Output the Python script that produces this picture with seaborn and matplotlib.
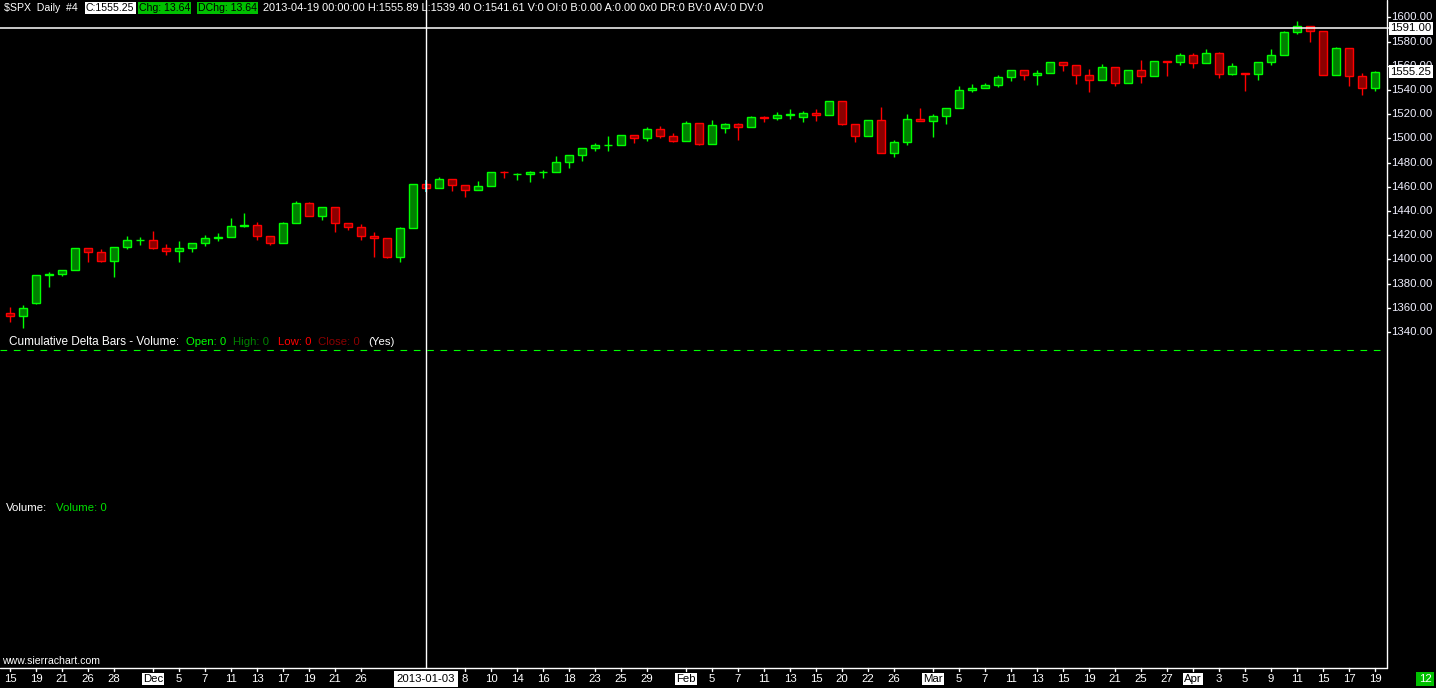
import numpy as np
import pandas as pd
import matplotlib
matplotlib.use("Agg")
import matplotlib.pyplot as plt
import matplotlib.transforms as mtransforms
import seaborn as sns

sns.set_theme(style="dark", rc={"axes.facecolor": "black", "figure.facecolor": "black"})
plt.rcParams['font.family'] = ['Liberation Sans', 'DejaVu Sans']

# ---- data: $SPX daily, 2012-11-15 .. 2013-04-19 ----
dates = [
    "2012-11-15", "2012-11-16", "2012-11-19", "2012-11-20", "2012-11-21", "2012-11-23",
    "2012-11-26", "2012-11-27", "2012-11-28", "2012-11-29", "2012-11-30",
    "2012-12-03", "2012-12-04", "2012-12-05", "2012-12-06", "2012-12-07", "2012-12-10",
    "2012-12-11", "2012-12-12", "2012-12-13", "2012-12-14", "2012-12-17", "2012-12-18",
    "2012-12-19", "2012-12-20", "2012-12-21", "2012-12-24", "2012-12-26", "2012-12-27",
    "2012-12-28", "2012-12-31",
    "2013-01-02", "2013-01-03", "2013-01-04", "2013-01-07", "2013-01-08", "2013-01-09",
    "2013-01-10", "2013-01-11", "2013-01-14", "2013-01-15", "2013-01-16", "2013-01-17",
    "2013-01-18", "2013-01-22", "2013-01-23", "2013-01-24", "2013-01-25", "2013-01-28",
    "2013-01-29", "2013-01-30", "2013-01-31",
    "2013-02-01", "2013-02-04", "2013-02-05", "2013-02-06", "2013-02-07", "2013-02-08",
    "2013-02-11", "2013-02-12", "2013-02-13", "2013-02-14", "2013-02-15", "2013-02-19",
    "2013-02-20", "2013-02-21", "2013-02-22", "2013-02-25", "2013-02-26", "2013-02-27",
    "2013-02-28",
    "2013-03-01", "2013-03-04", "2013-03-05", "2013-03-06", "2013-03-07", "2013-03-08",
    "2013-03-11", "2013-03-12", "2013-03-13", "2013-03-14", "2013-03-15", "2013-03-18",
    "2013-03-19", "2013-03-20", "2013-03-21", "2013-03-22", "2013-03-25", "2013-03-26",
    "2013-03-27", "2013-03-28",
    "2013-04-01", "2013-04-02", "2013-04-03", "2013-04-04", "2013-04-05", "2013-04-08",
    "2013-04-09", "2013-04-10", "2013-04-11", "2013-04-12", "2013-04-15", "2013-04-16",
    "2013-04-17", "2013-04-18", "2013-04-19",
]

opens = [
    1355.41, 1353.36, 1364.00, 1386.82, 1387.79, 1391.03, 1409.15, 1406.29, 1398.77, 1409.96, 1416.18,
    1416.34, 1409.46, 1407.05, 1409.43, 1413.95, 1418.07, 1418.55, 1427.84, 1428.48, 1419.45,
    1413.54, 1430.47, 1446.79, 1435.81, 1443.67, 1430.15, 1426.66, 1419.83, 1418.10, 1402.43,
    1426.19, 1462.42, 1459.37, 1466.47, 1461.89, 1457.15, 1461.02, 1472.12, 1470.30, 1470.67,
    1472.33, 1472.63, 1480.95, 1485.98, 1492.56, 1494.81, 1494.82, 1502.96, 1500.18, 1507.84,
    1501.96,
    1498.11, 1513.17, 1495.71, 1508.30, 1512.12, 1509.39, 1517.93, 1517.01, 1519.43, 1517.50,
    1521.38, 1519.79, 1530.94, 1511.95, 1502.42, 1515.60, 1487.85, 1496.94, 1515.99,
    1514.68, 1518.20, 1525.20, 1539.79, 1541.46, 1544.26, 1551.15, 1556.22, 1552.48, 1554.52,
    1563.21, 1560.70, 1552.10, 1548.34, 1558.71, 1545.90, 1556.89, 1551.69, 1563.75, 1562.86,
    1569.18, 1562.17, 1570.25, 1553.69, 1554.00, 1553.26, 1563.11, 1568.61, 1587.73, 1593.30,
    1588.84, 1552.36, 1574.57, 1552.03, 1541.61,
]
highs = [
    1360.62, 1362.03, 1386.89, 1389.77, 1391.25, 1409.16, 1409.15, 1409.01, 1410.31, 1419.70, 1418.86,
    1423.73, 1413.14, 1415.56, 1413.95, 1420.34, 1421.64, 1434.27, 1438.59, 1431.36, 1419.45,
    1430.67, 1448.00, 1447.75, 1443.70, 1443.67, 1430.15, 1429.42, 1422.80, 1418.10, 1426.74,
    1462.43, 1465.47, 1467.94, 1466.47, 1461.89, 1464.73, 1472.30, 1472.75, 1471.80, 1473.31,
    1473.96, 1485.16, 1485.98, 1492.56, 1496.13, 1502.27, 1503.26, 1503.23, 1509.35, 1509.94,
    1504.19,
    1514.41, 1513.17, 1514.96, 1512.53, 1512.90, 1518.31, 1518.31, 1522.29, 1524.69, 1523.14,
    1524.24, 1530.94, 1530.94, 1511.95, 1515.64, 1525.84, 1498.99, 1520.08, 1525.34,
    1519.99, 1525.27, 1543.47, 1545.25, 1545.78, 1552.48, 1556.27, 1556.77, 1556.39, 1563.32,
    1563.62, 1560.70, 1557.25, 1561.56, 1558.71, 1556.89, 1564.91, 1563.95, 1564.07, 1570.28,
    1570.57, 1573.66, 1571.47, 1562.60, 1554.20, 1563.07, 1573.89, 1589.07, 1597.35, 1593.30,
    1588.84, 1575.35, 1574.57, 1554.38, 1555.89,
]
lows = [
    1348.05, 1343.35, 1363.50, 1377.04, 1386.39, 1391.03, 1397.68, 1398.03, 1385.43, 1409.04, 1411.63,
    1408.46, 1403.65, 1398.23, 1405.93, 1410.90, 1415.64, 1418.55, 1426.76, 1416.00, 1411.88,
    1413.54, 1430.47, 1435.80, 1432.82, 1422.58, 1424.66, 1416.43, 1401.80, 1401.58, 1398.11,
    1426.19, 1455.53, 1458.99, 1456.62, 1451.64, 1457.15, 1461.02, 1467.58, 1465.69, 1463.76,
    1467.60, 1472.63, 1475.81, 1481.16, 1489.90, 1489.46, 1494.82, 1496.33, 1498.09, 1500.11,
    1496.76,
    1498.11, 1495.02, 1495.71, 1504.71, 1498.49, 1509.39, 1513.61, 1515.61, 1515.93, 1514.02,
    1514.14, 1519.79, 1511.41, 1497.29, 1502.42, 1487.85, 1485.01, 1494.88, 1514.46,
    1501.48, 1512.29, 1525.20, 1538.11, 1541.46, 1542.94, 1547.36, 1548.24, 1544.37, 1554.52,
    1555.74, 1545.13, 1538.57, 1548.34, 1543.55, 1545.90, 1546.22, 1551.69, 1551.90, 1561.08,
    1558.47, 1562.17, 1549.80, 1552.52, 1539.50, 1548.63, 1560.92, 1568.61, 1586.17, 1579.97,
    1552.28, 1552.36, 1543.69, 1536.03, 1539.40,
]
closes = [
    1353.33, 1359.88, 1386.89, 1387.81, 1391.03, 1409.15, 1406.29, 1398.94, 1409.93, 1415.95, 1416.18,
    1409.46, 1407.05, 1409.28, 1413.94, 1418.07, 1418.55, 1427.84, 1428.48, 1419.45, 1413.58,
    1430.36, 1446.79, 1435.81, 1443.69, 1430.15, 1426.66, 1419.83, 1418.10, 1402.43, 1426.19,
    1462.42, 1459.37, 1466.47, 1461.89, 1457.15, 1461.02, 1472.12, 1472.05, 1470.68, 1472.34,
    1472.63, 1480.94, 1485.98, 1492.56, 1494.81, 1494.82, 1502.96, 1500.18, 1507.84, 1501.96,
    1498.11,
    1513.17, 1495.71, 1511.29, 1512.12, 1509.39, 1517.93, 1517.01, 1519.43, 1520.33, 1521.38,
    1519.79, 1530.94, 1511.95, 1502.42, 1515.60, 1487.85, 1496.94, 1515.99, 1514.68,
    1518.20, 1525.20, 1539.79, 1541.46, 1544.26, 1551.18, 1556.22, 1552.48, 1554.52, 1563.23,
    1560.70, 1552.10, 1548.34, 1558.71, 1545.80, 1556.89, 1551.69, 1563.77, 1562.85, 1569.19,
    1562.17, 1570.25, 1553.69, 1559.98, 1553.28, 1563.07, 1568.61, 1587.73, 1593.37, 1588.85,
    1552.36, 1574.57, 1552.01, 1541.61, 1555.25,
]

label_dates = [
    "2012-11-15", "2012-11-19", "2012-11-21", "2012-11-26", "2012-11-28", "2012-12-03",
    "2012-12-05", "2012-12-07", "2012-12-11", "2012-12-13", "2012-12-17", "2012-12-19",
    "2012-12-21", "2012-12-26", "2013-01-08", "2013-01-10", "2013-01-14", "2013-01-16",
    "2013-01-18", "2013-01-23", "2013-01-25", "2013-01-29", "2013-02-01", "2013-02-05",
    "2013-02-07", "2013-02-11", "2013-02-13", "2013-02-15", "2013-02-20", "2013-02-22",
    "2013-02-26", "2013-03-01", "2013-03-05", "2013-03-07", "2013-03-11", "2013-03-13",
    "2013-03-15", "2013-03-19", "2013-03-21", "2013-03-25", "2013-03-27", "2013-04-01",
    "2013-04-03", "2013-04-05", "2013-04-09", "2013-04-11", "2013-04-15", "2013-04-17",
    "2013-04-19",
]
label_texts = [
    "15", "19", "21", "26", "28", "Dec", "5", "7", "11", "13", "17", "19", "21", "26",
    "8", "10", "14", "16", "18", "23", "25", "29", "Feb", "5", "7", "11", "13", "15",
    "20", "22", "26", "Mar", "5", "7", "11", "13", "15", "19", "21", "25", "27", "Apr",
    "3", "5", "9", "11", "15", "17", "19",
]
month_labels = ["Dec", "Feb", "Mar", "Apr"]
price_ticks = list(range(1340, 1601, 20))
cursor_date = "2013-01-03"
cursor_price = 1591.00

df = pd.DataFrame({"date": dates, "open": opens, "high": highs, "low": lows, "close": closes})
df["i"] = np.arange(len(df))
df["up"] = df["close"] >= df["open"]
df["body_lo"] = df[["open", "close"]].min(axis=1)
df["body_h"] = (df["close"] - df["open"]).abs()

W, H = 1436, 688
fig = plt.figure(figsize=(W / 100, H / 100), dpi=100, facecolor="black")


def px_rect(x0, y0, x1, y1):
    return [x0 / W, 1 - y1 / H, (x1 - x0) / W, (y1 - y0) / H]


# price scale: 1.21 px per point, 1600 at y=17.5
def px_to_price(y):
    return 1600 - (y - 17.5) / 1.21


ax = fig.add_axes(px_rect(0, 0, 1387, 349))
ax.set_xlim(-10 / 13.0, (1387 - 10) / 13.0)
ax.set_ylim(px_to_price(349), px_to_price(0))
ax.set_axis_off()

GREEN, DKGREEN, RED, DKRED = "#00ff00", "#008000", "#ff0000", "#8b0000"
ax.vlines(df["i"], df["low"], df["high"], colors=np.where(df["up"], GREEN, RED), lw=1.0, zorder=2)
ax.bar(df["i"], df["body_h"], bottom=df["body_lo"], width=0.68,
       color=np.where(df["up"], DKGREEN, DKRED),
       edgecolor=np.where(df["up"], GREEN, RED), linewidth=1.0, zorder=3)

# cursor crosshair
ci = dates.index(cursor_date)
ax.axhline(cursor_price, color="white", lw=1.1, zorder=4)
crow = df.iloc[ci]
ax.vlines([ci], [crow["low"]], [crow["high"]], colors="#00ffff", lw=1.1, zorder=6)

# right price axis column
axr = fig.add_axes(px_rect(1387, 0, 1436, 337))
axr.set_xlim(0, 49)
axr.set_ylim(px_to_price(337), px_to_price(0))
axr.set_axis_off()
for p in price_ticks:
    axr.plot([0, 3], [p, p], color="white", lw=1, clip_on=True)
    axr.text(4, p, f"{p:.2f}", color="#f0f0ff", fontsize=8.2, va="center", ha="left", clip_on=True)
axr.plot([0, 2], [cursor_price, cursor_price], color="white", lw=1.1)
for p in [cursor_price, closes[-1]]:
    axr.text(3.5, p, f"{p:.2f}", color="black", fontsize=8.2, va="center", ha="left", zorder=5,
             bbox=dict(boxstyle="square,pad=0.12", fc="white", ec="none"))

# overlay in pixel coordinates
ov = fig.add_axes(px_rect(0, 0, W, H), zorder=10)
ov.set_xlim(0, W)
ov.set_ylim(H, 0)
ov.set_axis_off()
ov.patch.set_alpha(0)
blend = mtransforms.blended_transform_factory(ax.transData, ov.transData)

fs = 8.2
hfs = 7.6
# header
ov.text(4, 8, "$SPX  Daily  #4", color="white", fontsize=hfs, va="center")
ov.text(86, 8, "C:1555.25", color="black", fontsize=hfs, va="center",
        bbox=dict(boxstyle="square,pad=0.1", fc="white", ec="none"))
ov.text(139, 8, "Chg: 13.64", color="black", fontsize=hfs, va="center",
        bbox=dict(boxstyle="square,pad=0.1", fc="#00c000", ec="none"))
ov.text(198, 8, "DChg: 13.64", color="black", fontsize=hfs, va="center",
        bbox=dict(boxstyle="square,pad=0.1", fc="#00c000", ec="none"))
ov.text(263, 8, "2013-04-19 00:00:00 H:1555.89 L:1539.40 O:1541.61 V:0 OI:0 B:0.00 A:0.00 0x0 DR:0 BV:0 AV:0 DV:0",
        color="white", fontsize=7.9, va="center")

# study pane labels
ov.text(9, 342, "Cumulative Delta Bars - Volume:", color="white", fontsize=8.5, va="center")
for x, s, c in [(186, "Open: 0", GREEN), (233, "High: 0", DKGREEN), (278, "Low: 0", RED),
                (318, "Close: 0", DKRED), (368, "(Yes)", "white")]:
    ov.text(x, 342, s, color=c, fontsize=fs, va="center")
ov.plot([0, 1381], [349.5, 349.5], color=GREEN, lw=0.8, dashes=(6, 6))
ov.text(6, 508, "Volume:", color="white", fontsize=fs, va="center")
ov.text(56, 508, "Volume: 0", color="#00e000", fontsize=fs, va="center")

# frame lines
ov.plot([0, 1387], [668, 668], color="white", lw=1)
ov.plot([1386.5, 1386.5], [0, 668], color="white", lw=1)
ov.plot([ci, ci], [0, 668], color="white", lw=1, transform=blend, zorder=1)

# x labels
for d, s in zip(label_dates, label_texts):
    i = dates.index(d)
    ov.plot([i, i], [668, 671], color="white", lw=1, transform=blend)
    if s in month_labels:
        ov.text(i, 679, s, color="black", fontsize=fs, ha="center", va="center", transform=blend,
                bbox=dict(boxstyle="square,pad=0.12", fc="white", ec="none"))
    else:
        ov.text(i, 679, s, color="white", fontsize=fs, ha="center", va="center", transform=blend)
ov.text(ci, 679, cursor_date, color="black", fontsize=fs, ha="center", va="center", transform=blend,
        bbox=dict(boxstyle="square,pad=0.25", fc="white", ec="none"))
ov.text(1425, 679, "12", color="white", fontsize=fs, ha="center", va="center",
        bbox=dict(boxstyle="square,pad=0.2", fc="#00c000", ec="none"))
ov.text(2, 661, "www.sierrachart.com", color="white", fontsize=7.6, va="center")

fig.savefig("out.png", dpi=100, facecolor="black")
